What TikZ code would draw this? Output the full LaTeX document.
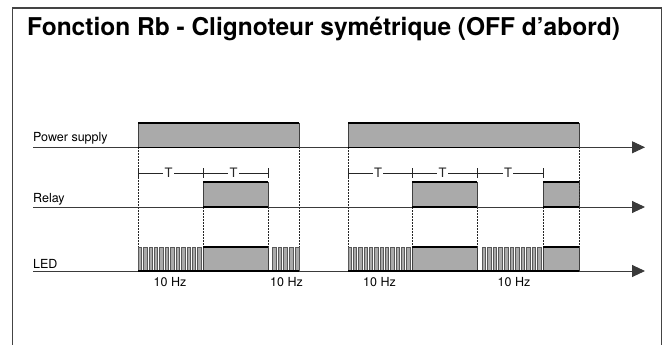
\documentclass[tikz,border=0pt]{standalone}
\usepackage{fontspec}
\setmainfont{TeX Gyre Heros}
\usetikzlibrary{arrows.meta}
\definecolor{fillgray}{HTML}{AAAAAA}
\definecolor{axisgray}{HTML}{3A3A3A}
\definecolor{framegray}{HTML}{444444}
\newcommand\ledpulses[3]{%
  \pgfmathsetmacro\pp{(#2-#1+2.0)/#3}%
  \foreach \i in {1,...,#3}{%
    \pgfmathsetmacro\xa{#1+(\i-1)*\pp}%
    \pgfmathsetmacro\xb{\xa+\pp-2.0}%
    \path[pulse] (\xa,247) rectangle (\xb,271);}}
\begin{document}
\begin{tikzpicture}[x=1pt,y=-1pt,
  axis/.style={draw=axisgray, line width=0.9pt, -{Triangle[length=13pt,width=12pt]}},
  sig/.style={fill=fillgray, draw=black!75, line width=0.6pt},
  pulse/.style={fill=fillgray, draw=black!65, line width=0.45pt},
  topedge/.style={draw=black, line width=1.6pt},
  botedge/.style={draw=black, line width=1.3pt},
  guide/.style={draw=black!85, line width=0.7pt, dash pattern=on 1.6pt off 1.4pt},
  lbl/.style={font=\fontsize{12.5}{14}\selectfont, inner sep=0pt, anchor=base west},
  hz/.style={font=\fontsize{12.5}{14}\selectfont, inner sep=0pt, anchor=base},
  tl/.style={font=\fontsize{13}{14}\selectfont, inner sep=1.5pt, fill=white, text=black!85},
  tline/.style={draw=black!85, line width=0.9pt},
  ]
\useasboundingbox (0,0) rectangle (670,345);
% frame
\draw[framegray, line width=1.5pt] (12.5,345) -- (12.5,8) -- (661.5,8) -- (661.5,345);
\node[inner sep=0pt, anchor=base west, font=\bfseries\fontsize{24.5}{28}\selectfont] (title) at (27,36) {Fonction Rb - Clignoteur symétrique (OFF d’abord)};

% labels
\node[lbl] (ps) at (33,142) {Power supply};
\node[lbl] (relay) at (33,202) {Relay};
\node[lbl] (led) at (33,268) {LED};

% power supply
\path[sig] (138,123) rectangle (299,147);
\path[sig] (348,123) rectangle (579,147);
% relay
\path[sig] (203,182) rectangle (268,207);
\path[sig] (412,182) rectangle (477,207);
\path[sig] (543,182) rectangle (579,207);
% LED
\path[sig] (203,247) rectangle (268,271);
\path[sig] (412,247) rectangle (477,271);
\path[sig] (543,247) rectangle (579,271);
\ledpulses{138}{201}{12}
\ledpulses{272}{299}{5}
\ledpulses{348}{410}{12}
\ledpulses{482}{541}{11}

% guides
\foreach \x in {138,299,348,579} \draw[guide] (\x,147) -- (\x,247);
\foreach \x in {203,268,412,477,543} \draw[guide] (\x,207) -- (\x,247);

% axes
\coordinate (a1s) at (33,147.3); \coordinate (a1e) at (645,147.3);
\coordinate (a2s) at (33,207); \coordinate (a2e) at (645,207);
\coordinate (a3s) at (33,271); \coordinate (a3e) at (645,271);
\draw[axis] (a1s) -- (a1e);
\draw[axis] (a2s) -- (a2e);
\draw[axis] (a3s) -- (a3e);

% top edges
\draw[topedge] (138,123) -- (299,123);
\draw[topedge] (348,123) -- (579,123);
\draw[topedge] (203,182) -- (268,182);
\draw[topedge] (412,182) -- (477,182);
\draw[topedge] (543,182) -- (579,182);
\draw[topedge] (203,247) -- (268,247);
\draw[topedge] (412,247) -- (477,247);
\draw[topedge] (543,247) -- (579,247);
\draw[botedge] (138,147.3) -- (299,147.3);
\draw[botedge] (348,147.3) -- (579,147.3);
\draw[botedge] (203,207) -- (268,207);
\draw[botedge] (412,207) -- (477,207);
\draw[botedge] (543,207) -- (579,207);
\draw[botedge] (138,271) -- (299,271);
\draw[botedge] (348,271) -- (579,271);

% T markers
\foreach \a/\b [count=\k] in {138/203,203/268,348/412,412/477,477/543}{
  \draw[tline] (\a,173) -- (\b,173);
  \draw[tline] (\a,168) -- (\a,178);
  \draw[tline] (\b,168) -- (\b,178);
  \node[tl] (t\k) at ({(\a+\b)/2-2},173) {T};
}

% 10 Hz
\node[hz] (hz1) at (170,286) {10 Hz};
\node[hz] (hz2) at (286.5,286) {10 Hz};
\node[hz] (hz3) at (379.5,286) {10 Hz};
\node[hz] (hz4) at (514,286) {10 Hz};
\end{tikzpicture}
\end{document}
